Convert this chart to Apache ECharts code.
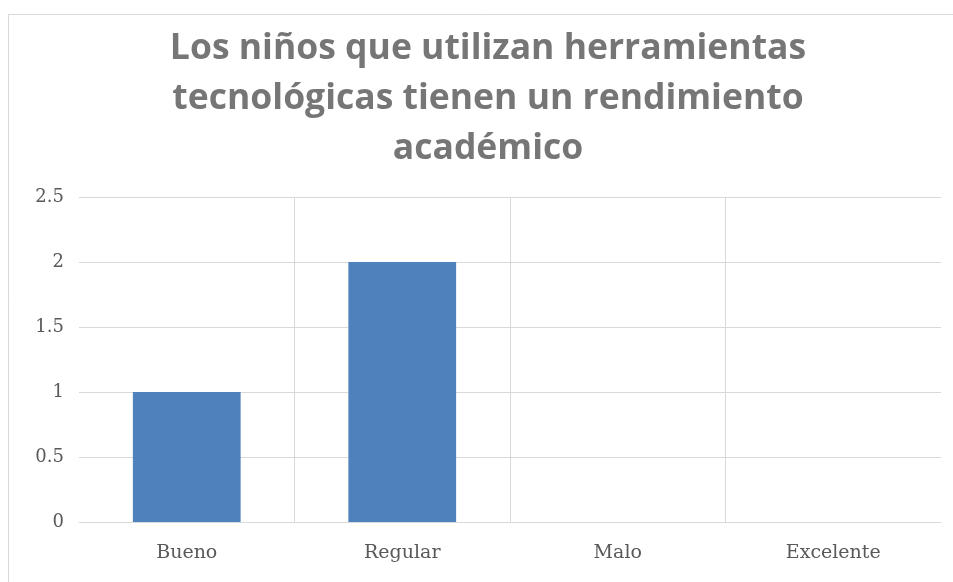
<!DOCTYPE html>
<html>
<head>
<meta charset="utf-8">
<script src="https://cdn.jsdelivr.net/npm/echarts@6/dist/echarts.min.js"></script>
<style>
  html, body { margin: 0; padding: 0; background: #fff; }
  #main { width: 953px; height: 582px; }
</style>
</head>
<body>
<div id="main"></div>
<script>
  // datos
  var categorias = ['Bueno', 'Regular', 'Malo', 'Excelente'];
  var valores = [1, 2, 0, 0];
  var titulo = 'Los niños que utilizan herramientas\ntecnológicas tienen un rendimiento\nacadémico';

  var chart = echarts.init(document.getElementById('main'));

  var option = {
    animation: false,
    backgroundColor: '#fff',
    graphic: [
      {
        type: 'rect',
        shape: { x: 8.5, y: 14.5, width: 1000, height: 700 },
        style: { fill: 'none', stroke: '#d9d9d9', lineWidth: 1 },
        silent: true
      }
    ],
    title: {
      text: titulo,
      left: 483,
      top: 19,
      textAlign: 'center',
      textStyle: {
        fontFamily: 'Open Sans',
        fontWeight: 'bold',
        fontSize: 35.5,
        lineHeight: 50,
        color: '#767676'
      }
    },
    grid: {
      left: 79,
      right: 12,
      top: 197,
      bottom: 60
    },
    xAxis: {
      type: 'category',
      data: categorias,
      axisLine: { lineStyle: { color: '#d9d9d9' } },
      axisTick: { show: false },
      splitLine: {
        show: true,
        showMinLine: false,
        showMaxLine: false,
        lineStyle: { color: '#d9d9d9' }
      },
      axisLabel: {
        margin: 22,
        fontFamily: 'DejaVu Serif',
        fontSize: 19,
        color: '#595959'
      }
    },
    yAxis: {
      type: 'value',
      min: 0,
      max: 2.5,
      interval: 0.5,
      axisLine: { show: false },
      axisTick: { show: false },
      splitLine: { lineStyle: { color: '#d9d9d9' } },
      axisLabel: {
        margin: 15,
        fontFamily: 'DejaVu Serif',
        fontSize: 18,
        color: '#595959'
      }
    },
    series: [
      {
        type: 'bar',
        data: valores,
        barWidth: '50%',
        itemStyle: { color: '#4f81bd' }
      }
    ]
  };

  chart.setOption(option);
</script>
</body>
</html>
